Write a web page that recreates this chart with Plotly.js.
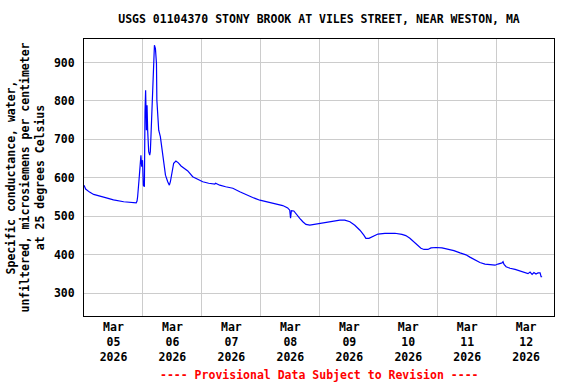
<!DOCTYPE html>
<html>
<head>
<meta charset="utf-8">
<script src="https://cdn.plot.ly/plotly-3.0.1.min.js"></script>
<style>html,body{margin:0;padding:0;background:#fff;}#chart{width:576px;height:384px;}</style>
</head>
<body>
<div id="chart"></div>
<script>
const times = [
  "2026-03-05 00:00","2026-03-05 00:40","2026-03-05 02:15","2026-03-05 03:55","2026-03-05 08:00",
  "2026-03-05 12:00","2026-03-05 16:10","2026-03-05 20:15","2026-03-05 21:15","2026-03-05 21:35",
  "2026-03-05 21:50","2026-03-05 22:30","2026-03-05 23:10","2026-03-05 23:30","2026-03-05 23:50",
  "2026-03-06 00:10","2026-03-06 00:35","2026-03-06 00:50","2026-03-06 01:05","2026-03-06 01:25",
  "2026-03-06 01:40","2026-03-06 01:55","2026-03-06 02:20","2026-03-06 02:45","2026-03-06 03:00",
  "2026-03-06 03:15","2026-03-06 03:50","2026-03-06 04:15","2026-03-06 04:40","2026-03-06 05:05",
  "2026-03-06 05:30","2026-03-06 05:40","2026-03-06 06:25","2026-03-06 07:05","2026-03-06 07:45",
  "2026-03-06 08:25","2026-03-06 09:10","2026-03-06 10:05","2026-03-06 10:45","2026-03-06 11:10",
  "2026-03-06 11:50","2026-03-06 12:30","2026-03-06 13:25","2026-03-06 14:25","2026-03-06 15:30",
  "2026-03-06 16:50","2026-03-06 18:15","2026-03-06 20:15","2026-03-06 22:40","2026-03-07 00:20",
  "2026-03-07 02:45","2026-03-07 05:15","2026-03-07 05:35","2026-03-07 07:15","2026-03-07 09:40",
  "2026-03-07 12:35","2026-03-07 15:25","2026-03-07 18:15","2026-03-07 20:40","2026-03-07 23:35",
  "2026-03-08 02:25","2026-03-08 04:50","2026-03-08 07:40","2026-03-08 08:55","2026-03-08 10:55",
  "2026-03-08 11:45","2026-03-08 12:05","2026-03-08 12:25","2026-03-08 13:25","2026-03-08 14:40",
  "2026-03-08 15:50","2026-03-08 17:05","2026-03-08 18:20","2026-03-08 19:55","2026-03-08 21:55",
  "2026-03-09 00:00","2026-03-09 04:05","2026-03-09 08:10","2026-03-09 10:10","2026-03-09 12:15",
  "2026-03-09 14:15","2026-03-09 16:20","2026-03-09 17:55","2026-03-09 18:45","2026-03-09 20:00",
  "2026-03-09 21:10","2026-03-09 22:25","2026-03-09 23:40","2026-03-10 02:30","2026-03-10 06:35",
  "2026-03-10 09:25","2026-03-10 11:00","2026-03-10 12:40","2026-03-10 14:20","2026-03-10 15:55",
  "2026-03-10 17:10","2026-03-10 18:25","2026-03-10 20:00","2026-03-10 21:15","2026-03-10 23:15",
  "2026-03-11 01:45","2026-03-11 04:10","2026-03-11 06:35","2026-03-11 09:05","2026-03-11 11:30",
  "2026-03-11 13:05","2026-03-11 15:10","2026-03-11 17:10","2026-03-11 19:15","2026-03-11 22:05",
  "2026-03-11 23:20","2026-03-12 00:30","2026-03-12 02:10","2026-03-12 02:35","2026-03-12 03:00",
  "2026-03-12 03:50","2026-03-12 05:25","2026-03-12 07:30","2026-03-12 09:30","2026-03-12 11:30",
  "2026-03-12 12:45","2026-03-12 13:35","2026-03-12 14:25","2026-03-12 15:10","2026-03-12 16:00",
  "2026-03-12 16:50","2026-03-12 17:40","2026-03-12 18:05","2026-03-12 18:30"
];
const conductance = [
  581,571,563,557,550,
  543,538,535,535,540,
  551,603,659,629,646,
  581,577,772,828,724,
  789,724,668,659,668,
  707,828,897,945,936,
  897,802,724,707,672,
  633,607,590,581,590,
  612,638,644,639,631,
  625,618,603,594,590,
  586,584,586,581,577,
  573,564,555,549,542,
  538,534,529,528,522,
  516,495,515,514,503,
  495,486,479,477,479,
  483,486,490,490,486,
  477,464,451,443,443,
  447,450,454,456,456,
  453,450,443,434,425,
  417,414,414,418,419,
  418,415,411,405,400,
  394,386,380,376,375,
  373,376,379,382,375,
  369,365,362,358,354,
  351,355,349,354,350,
  353,353,343,343
];
const titleText = "USGS 01104370 STONY BROOK AT VILES STREET, NEAR WESTON, MA";
const yTitleText = "Specific conductance, water,<br>unfiltered, microsiemens per centimeter<br>at 25 degrees Celsius";
const footText = "---- Provisional Data Subject to Revision ----";
const yTicks = [300,400,500,600,700,800,900];

const FONT = "DejaVu Sans Mono, Liberation Mono, monospace";

const trace = {
  x: times, y: conductance, type: "scatter", mode: "lines",
  line: {color: "#0000ff", width: 1.2}, hoverinfo: "skip"
};

const layout = {
  width: 576, height: 384,
  margin: {l: 84, r: 22, t: 39, b: 68},
  paper_bgcolor: "#fff", plot_bgcolor: "#fff",
  showlegend: false,
  font: {family: FONT, size: 11.5, color: "#000", weight: "bold"},
  title: {
    text: titleText, x: 0.5, xref: "paper", y: 1 - 19/384, yref: "container",
    xanchor: "center", yanchor: "middle",
    font: {family: FONT, size: 11.5, color: "#000", weight: "bold"}
  },
  xaxis: {
    type: "date",
    range: ["2026-03-05 00:00", "2026-03-12 23:20"],
    tickmode: "linear", tick0: "2026-03-05", dtick: 86400000,
    ticklabelmode: "period", tickformat: "%b<br>%d<br>%Y",
    ticks: "", showgrid: true, gridcolor: "#cccccc", gridwidth: 1,
    showline: true, linecolor: "#000", linewidth: 1, mirror: true,
    zeroline: false,
    tickfont: {family: FONT, size: 11.5, color: "#000", weight: "bold"}
  },
  yaxis: {
    range: [241, 961],
    tickmode: "array", tickvals: yTicks, ticktext: yTicks.map(String),
    ticks: "", ticklabelstandoff: 6,
    showgrid: true, gridcolor: "#cccccc", gridwidth: 1,
    showline: true, linecolor: "#000", linewidth: 1, mirror: true,
    zeroline: false,
    tickfont: {family: FONT, size: 11.5, color: "#000", weight: "bold"}
  },
  annotations: [
    {
      text: yTitleText, xref: "paper", yref: "paper",
      x: (25 - 84) / 470, y: 0.5, xanchor: "center", yanchor: "middle",
      textangle: -90, showarrow: false,
      font: {family: FONT, size: 11.5, color: "#000", weight: "bold"}
    },
    {
      text: footText, xref: "paper", yref: "paper",
      x: 0.5, y: -(375 - 316) / 277, xanchor: "center", yanchor: "middle",
      showarrow: false,
      font: {family: FONT, size: 11.5, color: "#ff0000", weight: "bold"}
    }
  ]
};

Plotly.newPlot("chart", [trace], layout, {staticPlot: true, displayModeBar: false});
</script>
</body>
</html>
